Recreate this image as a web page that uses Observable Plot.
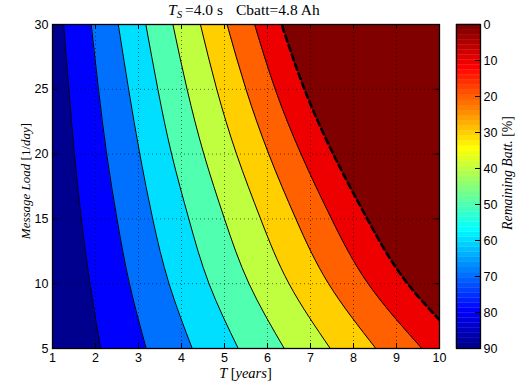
<!DOCTYPE html>
<html>
<head>
<meta charset="utf-8">
<script src="https://cdn.jsdelivr.net/npm/d3@7"></script>
<script src="https://cdn.jsdelivr.net/npm/@observablehq/plot@0.6"></script>
<style>
  html, body { margin: 0; padding: 0; background: #fff; }
  #wrap { position: relative; width: 521px; height: 385px; overflow: hidden; }
  #wrap svg { position: absolute; top: 0; }
</style>
</head>
<body>
<div id="wrap"></div>
<script>
// ---- data ----
const loads = [5, 10, 15, 20, 25, 30];                 // Message Load [1/day]
const levels = [80, 70, 60, 50, 40, 30, 20, 10, 0];     // Remaining Batt. contour levels [%]
// T [years] where each contour crosses each load value
const T80 = [2.12, 1.87, 1.67, 1.51, 1.38, 1.26];
const T70 = [3.18, 2.79, 2.50, 2.26, 2.07, 1.90];
const T60 = [4.25, 3.71, 3.33, 3.03, 2.77, 2.53];
const T50 = [5.32, 4.64, 4.17, 3.77, 3.45, 3.17];
const T40 = [6.39, 5.57, 5.00, 4.52, 4.13, 3.80];
const T30 = [7.46, 6.50, 5.84, 5.28, 4.82, 4.44];
const T20 = [8.52, 7.42, 6.66, 6.03, 5.50, 5.06];
const T10 = [9.59, 8.34, 7.49, 6.78, 6.18, 5.70];
const T0  = [10.66, 9.26, 8.32, 7.53, 6.86, 6.33];
const xTicks = [1, 2, 3, 4, 5, 6, 7, 8, 9, 10];
const yTicks = [5, 10, 15, 20, 25, 30];
const cbTicks = [0, 10, 20, 30, 40, 50, 60, 70, 80, 90];

const contourT = [T80, T70, T60, T50, T40, T30, T20, T10, T0];
const rows = k => loads.map((L, i) => ({L, T: contourT[k][i], level: levels[k]}));

// MATLAB jet(64) colormap
function jet64(i) {
  const c = v => Math.max(0, Math.min(1, v));
  const r = c(Math.min((i - 24) / 16, (72 - i) / 16));
  const g = c(Math.min((i - 8) / 16, (56 - i) / 16));
  const b = c(Math.min((i + 8) / 16, (40 - i) / 16));
  return d3.rgb(r * 255, g * 255, b * 255).formatHex();
}
// region colours (from 80-90 region to <=0 region)
const regionIdx = [1, 8, 15, 22, 29, 36, 43, 50, 57, 64];
const regionColor = regionIdx.map(jet64);

const FW = 387, FH = 324;

const marks = [Plot.frame({fill: regionColor[0], stroke: null})];
levels.forEach((lev, k) => {
  marks.push(Plot.areaX(rows(k), {y: "L", x1: "T", x2: 11, fill: regionColor[k + 1], curve: "natural", clip: true}));
});
// dotted grid
marks.push(Plot.ruleX(xTicks.slice(1, -1), {x: d => d, stroke: "black", strokeWidth: 0.7, strokeOpacity: 0.8, strokeDasharray: "1,3"}));
marks.push(Plot.ruleY(yTicks.slice(1, -1), {y: d => d, stroke: "black", strokeWidth: 0.7, strokeOpacity: 0.8, strokeDasharray: "1,3"}));
// contour lines
levels.forEach((lev, k) => {
  const last = lev === 0;
  marks.push(Plot.lineX(rows(k), {x: "T", y: "L", curve: "natural", clip: true,
    stroke: "black", strokeWidth: last ? 2.6 : 1, strokeDasharray: last ? "6,4" : null}));
});
marks.push(Plot.frame({stroke: "black", strokeWidth: 1.3}));
// inward ticks on all four sides
marks.push(Plot.tickX(xTicks, {x: d => d, insetTop: FH - 5, stroke: "black"}));
marks.push(Plot.tickX(xTicks, {x: d => d, insetBottom: FH - 5, stroke: "black"}));
marks.push(Plot.tickY(yTicks, {y: d => d, insetRight: FW - 5, stroke: "black"}));
marks.push(Plot.tickY(yTicks, {y: d => d, insetLeft: FW - 5, stroke: "black"}));

const main = Plot.plot({
  width: 521, height: 385,
  marginLeft: 52, marginRight: 82, marginTop: 24, marginBottom: 37,
  style: {background: "transparent", fontFamily: "'Liberation Sans', Arial, sans-serif", fontSize: "12.5px", color: "black", overflow: "visible"},
  x: {domain: [1, 10], ticks: xTicks, tickSize: 0, tickPadding: 5, label: null, tickFormat: d => String(d)},
  y: {domain: [5, 30], ticks: yTicks, tickSize: 0, tickPadding: 4, label: null, tickFormat: d => String(d)},
  marks
});
main.style.left = "0px";
document.getElementById("wrap").appendChild(main);

// colorbar
const bands = d3.range(1, 65).map(i => ({y1: 90 - i * 90 / 64, y2: 90 - (i - 1) * 90 / 64, c: jet64(i)}));
const cb = Plot.plot({
  width: 81, height: 385,
  marginLeft: 16, marginRight: 41, marginTop: 24, marginBottom: 37,
  style: {background: "transparent", fontFamily: "'Liberation Sans', Arial, sans-serif", fontSize: "12.5px", color: "black", overflow: "visible"},
  x: {domain: [0, 1], axis: null},
  y: {domain: [0, 90], reverse: true, axis: "right", ticks: cbTicks, tickSize: 0, tickPadding: 3, label: null, tickFormat: d => String(d)},
  marks: [
    Plot.rect(bands, {x1: 0, x2: 1, y1: "y1", y2: "y2", fill: "c", stroke: "c", strokeWidth: 0.3}),
    Plot.frame({stroke: "black", strokeWidth: 1.3}),
    Plot.tickY(cbTicks, {y: d => d, insetLeft: 19, stroke: "black"})
  ]
});
cb.style.left = "440px";
document.getElementById("wrap").appendChild(cb);

// rich text labels
const svg = d3.select(main);
const serif = "'Liberation Serif', 'DejaVu Serif', serif";
const title = svg.append("text").attr("y", 15).attr("text-anchor", "start")
  .attr("font-family", serif).attr("font-size", 15.5).attr("fill", "black");
title.append("tspan").attr("x", 168).attr("font-style", "italic").text("T");
title.append("tspan").attr("font-style", "italic").attr("font-size", 11).attr("dy", 3).text("S");
title.append("tspan").attr("x", 185).attr("dy", -3).text("=4.0 s");
title.append("tspan").attr("x", 236).text("Cbatt=4.8 Ah");

const xl = svg.append("text").attr("x", 245.5).attr("y", 378).attr("text-anchor", "middle")
  .attr("font-family", serif).attr("font-size", 14.5).attr("fill", "black");
xl.append("tspan").attr("font-style", "italic").text("T ");
xl.append("tspan").text("[");
xl.append("tspan").attr("font-style", "italic").text("years");
xl.append("tspan").text("]");

const yl = svg.append("text").attr("transform", "translate(30,181) rotate(-90)").attr("text-anchor", "middle")
  .attr("font-family", serif).attr("font-size", 13).attr("fill", "black");
yl.append("tspan").attr("font-style", "italic").text("Message Load ");
yl.append("tspan").text("[1/");
yl.append("tspan").attr("font-style", "italic").text("day");
yl.append("tspan").text("]");

const cbs = d3.select(cb);
const cl = cbs.append("text").attr("transform", "translate(72,173) rotate(-90)").attr("text-anchor", "middle")
  .attr("font-family", serif).attr("font-size", 13.8).attr("fill", "black");
cl.append("tspan").attr("font-style", "italic").text("Remaining Batt. ");
cl.append("tspan").text("[%]");
</script>
</body>
</html>
